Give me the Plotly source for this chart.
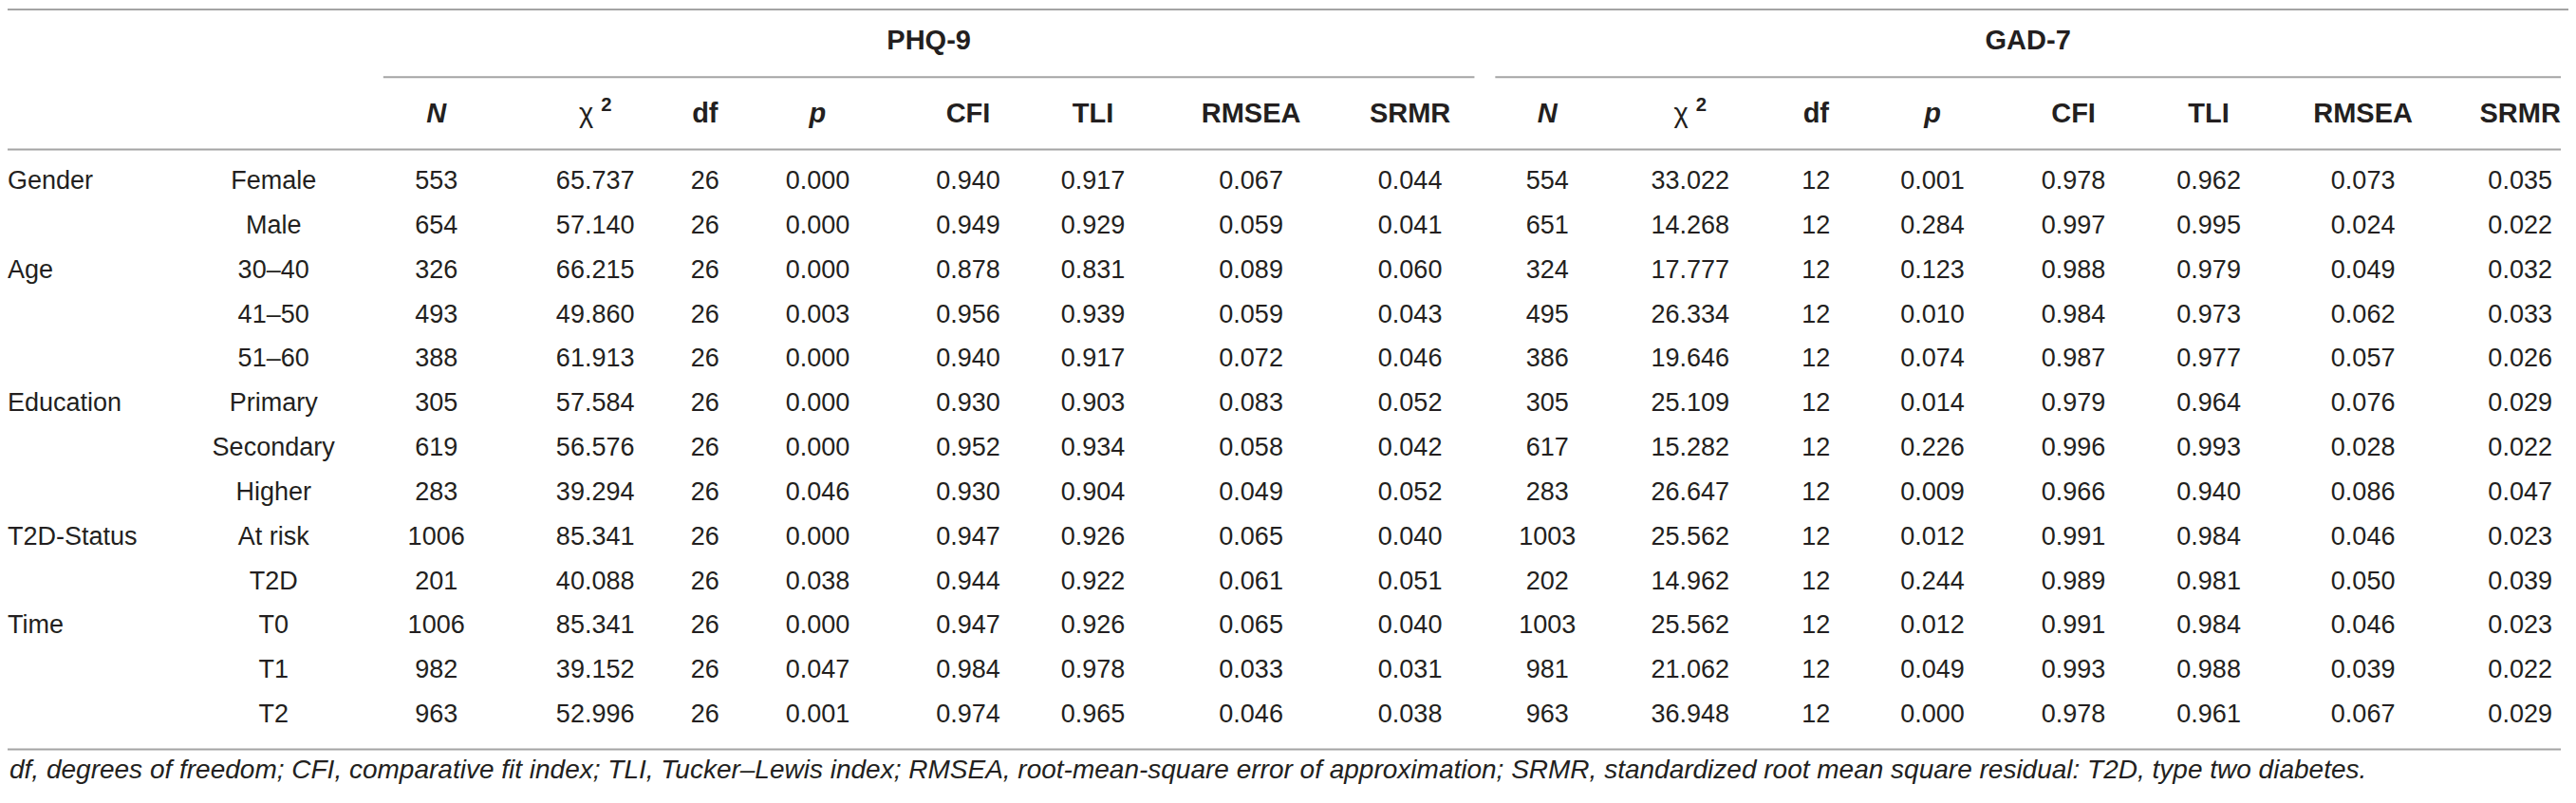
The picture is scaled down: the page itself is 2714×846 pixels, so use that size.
import plotly.graph_objects as go

# row labels
groups = ["Gender", "Age", "Education", "T2D-Status", "Time"]
group_rows = [0, 2, 5, 8, 10]
subgroups = ["Female", "Male", "30–40", "41–50", "51–60", "Primary", "Secondary", "Higher",
             "At risk", "T2D", "T0", "T1", "T2"]

# PHQ-9 fit results
phq_n = [553, 654, 326, 493, 388, 305, 619, 283, 1006, 201, 1006, 982, 963]
phq_chi2 = [65.737, 57.140, 66.215, 49.860, 61.913, 57.584, 56.576, 39.294, 85.341, 40.088, 85.341, 39.152, 52.996]
phq_df = [26] * 13
phq_p = [0.000, 0.000, 0.000, 0.003, 0.000, 0.000, 0.000, 0.046, 0.000, 0.038, 0.000, 0.047, 0.001]
phq_cfi = [0.940, 0.949, 0.878, 0.956, 0.940, 0.930, 0.952, 0.930, 0.947, 0.944, 0.947, 0.984, 0.974]
phq_tli = [0.917, 0.929, 0.831, 0.939, 0.917, 0.903, 0.934, 0.904, 0.926, 0.922, 0.926, 0.978, 0.965]
phq_rmsea = [0.067, 0.059, 0.089, 0.059, 0.072, 0.083, 0.058, 0.049, 0.065, 0.061, 0.065, 0.033, 0.046]
phq_srmr = [0.044, 0.041, 0.060, 0.043, 0.046, 0.052, 0.042, 0.052, 0.040, 0.051, 0.040, 0.031, 0.038]

# GAD-7 fit results
gad_n = [554, 651, 324, 495, 386, 305, 617, 283, 1003, 202, 1003, 981, 963]
gad_chi2 = [33.022, 14.268, 17.777, 26.334, 19.646, 25.109, 15.282, 26.647, 25.562, 14.962, 25.562, 21.062, 36.948]
gad_df = [12] * 13
gad_p = [0.001, 0.284, 0.123, 0.010, 0.074, 0.014, 0.226, 0.009, 0.012, 0.244, 0.012, 0.049, 0.000]
gad_cfi = [0.978, 0.997, 0.988, 0.984, 0.987, 0.979, 0.996, 0.966, 0.991, 0.989, 0.991, 0.993, 0.978]
gad_tli = [0.962, 0.995, 0.979, 0.973, 0.977, 0.964, 0.993, 0.940, 0.984, 0.981, 0.984, 0.988, 0.961]
gad_rmsea = [0.073, 0.024, 0.049, 0.062, 0.057, 0.076, 0.028, 0.086, 0.046, 0.050, 0.046, 0.039, 0.067]
gad_srmr = [0.035, 0.022, 0.032, 0.033, 0.026, 0.029, 0.022, 0.047, 0.023, 0.039, 0.023, 0.022, 0.029]

scales = ["PHQ-9", "GAD-7"]
col_headers = ["<b><i>N</i></b>", "χ <sup><b>2</b></sup>", "<b>df</b>", "<b><i>p</i></b>",
               "<b>CFI</b>", "<b>TLI</b>", "<b>RMSEA</b>", "<b>SRMR</b>"]
footnote = ("df, degrees of freedom; CFI, comparative fit index; TLI, Tucker–Lewis index; "
            "RMSEA, root-mean-square error of approximation; SRMR, standardized root mean "
            "square residual: T2D, type two diabetes.")

# layout (pixel positions of the page); the page body has an 8px margin
W, H = 2714, 846
PAD = 8
FONT = "Liberation Sans, Arial, sans-serif"
TXT = "#231f20"
LINE = "#a4a4a4"
phq_x = [461, 629, 745, 864, 1023, 1155, 1322, 1490]
gad_x = [1635, 1786, 1919, 2042, 2191, 2334, 2497, 2663]
row_y = [194 + i * 47.3 for i in range(len(subgroups))]


def fmt(vals, dec):
    if dec == 0:
        return [str(v) for v in vals]
    return [f"{v:.{dec}f}" for v in vals]


fig = go.Figure()


def add_text(xs, ys, texts, size=27, pos="middle center"):
    fig.add_trace(go.Scatter(
        x=xs, y=ys, text=texts, mode="text",
        textposition=pos, textfont=dict(family=FONT, size=size, color=TXT),
        hoverinfo="skip", showlegend=False,
    ))


add_text([PAD] * len(groups), [row_y[r] for r in group_rows], groups, pos="middle right")
add_text([289] * len(subgroups), row_y, subgroups)

phq_cols = [fmt(phq_n, 0), fmt(phq_chi2, 3), fmt(phq_df, 0), fmt(phq_p, 3),
            fmt(phq_cfi, 3), fmt(phq_tli, 3), fmt(phq_rmsea, 3), fmt(phq_srmr, 3)]
gad_cols = [fmt(gad_n, 0), fmt(gad_chi2, 3), fmt(gad_df, 0), fmt(gad_p, 3),
            fmt(gad_cfi, 3), fmt(gad_tli, 3), fmt(gad_rmsea, 3), fmt(gad_srmr, 3)]
for x, col in zip(phq_x + gad_x, phq_cols + gad_cols):
    add_text([x] * len(col), row_y, col)

# column headers
add_text(phq_x + gad_x, [123] * 16, col_headers * 2, size=29)

# group headers and the lines under them
spans = [(405, 1558), (1580, 2706)]
add_text([(a + b) / 2 for a, b in spans], [45, 45], ["<b>" + s + "</b>" for s in scales], size=29)

fig.add_annotation(x=PAD, y=818, xref="x", yref="y", xanchor="left", yanchor="middle",
                   text="<i>" + footnote + "</i>", showarrow=False,
                   font=dict(family=FONT, size=28, color=TXT))

lines = [(PAD, W, 10), (spans[0][0], spans[0][1], 82), (spans[1][0], spans[1][1], 82),
         (PAD, 2706, 159), (PAD, 2706, 797)]
for x0, x1, y in lines:
    fig.add_shape(type="line", x0=x0, x1=x1, y0=y, y1=y, xref="x", yref="y",
                  line=dict(color=LINE, width=2))

fig.update_xaxes(range=[PAD, W], visible=False, fixedrange=True)
fig.update_yaxes(range=[H, PAD], visible=False, fixedrange=True)
fig.update_layout(width=W - 2 * PAD, height=H - 2 * PAD, margin=dict(l=0, r=0, t=0, b=0),
                  plot_bgcolor="white", paper_bgcolor="white")

fig.write_html("out.html")
